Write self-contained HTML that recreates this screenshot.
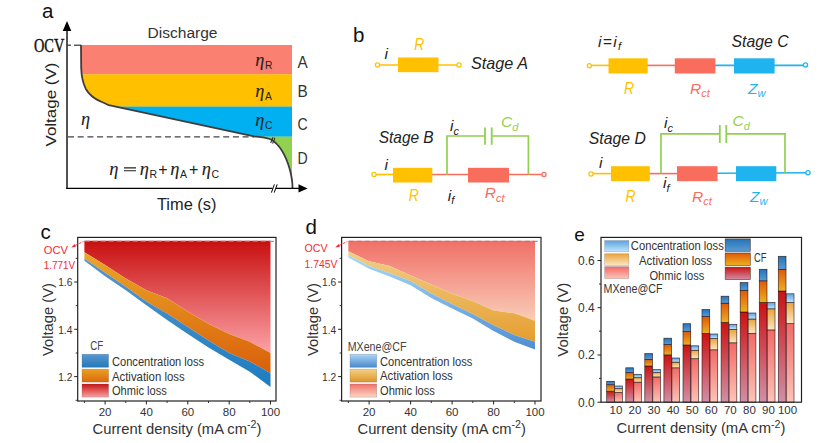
<!DOCTYPE html>
<html><head><meta charset="utf-8"><title>Figure</title>
<style>
html,body{margin:0;padding:0;background:#fff;}
body{width:822px;height:443px;overflow:hidden;font-family:"Liberation Sans",sans-serif;}
svg{display:block;}
text{white-space:pre;}
</style></head><body>
<svg width="822" height="443" viewBox="0 0 822 443">
<defs>
<linearGradient id="pco" gradientUnits="userSpaceOnUse" x1="0" y1="241" x2="0" y2="350"><stop offset="0" stop-color="#c81010"/><stop offset="1" stop-color="#fb9ea2"/></linearGradient>
<linearGradient id="pca" gradientUnits="userSpaceOnUse" x1="0" y1="250" x2="0" y2="385"><stop offset="0" stop-color="#eaa828"/><stop offset="1" stop-color="#d85808"/></linearGradient>
<linearGradient id="pcc" gradientUnits="userSpaceOnUse" x1="0" y1="255" x2="0" y2="390"><stop offset="0" stop-color="#5a96cc"/><stop offset="1" stop-color="#1a7cc0"/></linearGradient>
<linearGradient id="pdo" gradientUnits="userSpaceOnUse" x1="0" y1="241" x2="0" y2="325"><stop offset="0" stop-color="#f07068"/><stop offset="1" stop-color="#fad2bc"/></linearGradient>
<linearGradient id="pda" gradientUnits="userSpaceOnUse" x1="0" y1="250" x2="0" y2="348"><stop offset="0" stop-color="#f2cf88"/><stop offset="1" stop-color="#e49a28"/></linearGradient>
<linearGradient id="pdc" gradientUnits="userSpaceOnUse" x1="0" y1="255" x2="0" y2="352"><stop offset="0" stop-color="#a8d8f8"/><stop offset="1" stop-color="#4c8cd0"/></linearGradient>
<linearGradient id="pccl" x1="0" y1="0" x2="0" y2="1"><stop offset="0" stop-color="#5a98d2"/><stop offset="1" stop-color="#2478b8"/></linearGradient>
<linearGradient id="pcal" x1="0" y1="0" x2="0" y2="1"><stop offset="0" stop-color="#e8a020"/><stop offset="1" stop-color="#dc6a10"/></linearGradient>
<linearGradient id="pcol" x1="0" y1="0" x2="0" y2="1"><stop offset="0" stop-color="#c81414"/><stop offset="1" stop-color="#f9a0a0"/></linearGradient>
<linearGradient id="pdcl" x1="0" y1="0" x2="0" y2="1"><stop offset="0" stop-color="#acd8f8"/><stop offset="1" stop-color="#4a88cc"/></linearGradient>
<linearGradient id="pdal" x1="0" y1="0" x2="0" y2="1"><stop offset="0" stop-color="#f3d088"/><stop offset="1" stop-color="#e09626"/></linearGradient>
<linearGradient id="pdol" x1="0" y1="0" x2="0" y2="1"><stop offset="0" stop-color="#f07068"/><stop offset="1" stop-color="#fbd6c4"/></linearGradient>
<linearGradient id="eco" x1="0" y1="0" x2="0" y2="1"><stop offset="0" stop-color="#cc1212"/><stop offset="1" stop-color="#d090a8"/></linearGradient>
<linearGradient id="eca" x1="0" y1="0" x2="0" y2="1"><stop offset="0" stop-color="#e05808"/><stop offset="1" stop-color="#ecb020"/></linearGradient>
<linearGradient id="ecc" x1="0" y1="0" x2="0" y2="1"><stop offset="0" stop-color="#2474b8"/><stop offset="1" stop-color="#5a9ad6"/></linearGradient>
<linearGradient id="emo" x1="0" y1="0" x2="0" y2="1"><stop offset="0" stop-color="#f26a66"/><stop offset="1" stop-color="#fcc4b8"/></linearGradient>
<linearGradient id="ema" x1="0" y1="0" x2="0" y2="1"><stop offset="0" stop-color="#eaa43a"/><stop offset="1" stop-color="#fbe6c4"/></linearGradient>
<linearGradient id="emc" x1="0" y1="0" x2="0" y2="1"><stop offset="0" stop-color="#5aa2e2"/><stop offset="1" stop-color="#c4e6fb"/></linearGradient>
</defs>
<rect width="822" height="443" fill="#fff"/>
<g id="pa">
<rect x="81" y="45" width="211" height="29.5" fill="#fa8072"/>
<rect x="81" y="74.3" width="211" height="32.5" fill="#ffc000"/>
<rect x="81" y="106.6" width="211" height="30.2" fill="#00b0f0"/>
<rect x="255" y="136.6" width="37" height="45" fill="#92d050"/>
<path d="M81,45 L81.2,68 C81.4,76 82.5,82 85.7,88.7 C89,94.5 95,99 100.4,101.3 C103,102.5 106,104 108.8,105.1 L254,136.3 C262,137.4 267,137.6 271,139.5 C279,144 286,156 290,170 C292,178 292.6,183 292.5,188 L67,188 L67,45 Z" fill="#fff"/>
<line x1="68" y1="136.8" x2="254" y2="136.8" stroke="#444" stroke-width="1.3" stroke-dasharray="6,3.7"/>
<path d="M81,45 L81.2,68 C81.4,76 82.5,82 85.7,88.7 C89,94.5 95,99 100.4,101.3 C103,102.5 106,104 108.8,105.1 L254,136.3 C262,137.4 267,137.6 271,139.5 C279,144 286,156 290,170 C292,178 292.6,183 292.5,188" fill="none" stroke="#3d3d3d" stroke-width="1.8"/>
<line x1="67" y1="28" x2="67" y2="189" stroke="#000" stroke-width="1.35"/>
<line x1="66.3" y1="188.4" x2="300" y2="188.4" stroke="#000" stroke-width="1.35"/>
<path d="M67,21 L71.3,31 L62.7,31 Z" fill="#000"/>
<path d="M307.6,188.4 L298.5,184.2 L298.5,192.6 Z" fill="#000"/>
<line x1="67" y1="45.2" x2="71" y2="45.2" stroke="#333" stroke-width="1.2"/>
<line x1="74" y1="45.2" x2="81" y2="45.2" stroke="#333" stroke-width="1.2"/>
<rect x="272.5" y="186.5" width="3.4" height="4" fill="#fff"/>
<path d="M274.4,184.4 L271.4,192.6 M277.2,184.4 L274.2,192.6" stroke="#000" stroke-width="1" fill="none"/>
<path d="M273,137.2 L270.7,143 M274.9,137.8 L272.6,143.6" stroke="#333" stroke-width="1.1" fill="none"/>
<text x="42" y="18.3" fill="#111" style='font-family:"Liberation Sans", sans-serif;font-size:20.5px;' >a</text>
<text x="182.5" y="38" fill="#333" text-anchor="middle" textLength="70" lengthAdjust="spacingAndGlyphs" style='font-family:"Liberation Sans", sans-serif;font-size:15.5px;' >Discharge</text>
<text x="34" y="52" fill="#111" textLength="30.3" lengthAdjust="spacingAndGlyphs" style='font-family:"Liberation Serif", serif;font-size:18.5px;' stroke="#111" stroke-width="0.4">OCV</text>
<text transform="translate(56.3,104.5) rotate(-90)" text-anchor="middle" textLength="84" lengthAdjust="spacingAndGlyphs" fill="#222" style='font-family:"Liberation Sans", sans-serif;font-size:15.5px;'>Voltage (V)</text>
<text x="186.7" y="210.3" fill="#222" text-anchor="middle" textLength="59.5" lengthAdjust="spacingAndGlyphs" style='font-family:"Liberation Sans", sans-serif;font-size:16px;' >Time (s)</text>
<text x="302.5" y="68" fill="#333" text-anchor="middle" textLength="10.2" lengthAdjust="spacingAndGlyphs" style='font-family:"Liberation Sans", sans-serif;font-size:16.5px;' >A</text>
<text x="302.5" y="96.7" fill="#333" text-anchor="middle" textLength="10.2" lengthAdjust="spacingAndGlyphs" style='font-family:"Liberation Sans", sans-serif;font-size:16.5px;' >B</text>
<text x="302.5" y="130" fill="#333" text-anchor="middle" textLength="10.2" lengthAdjust="spacingAndGlyphs" style='font-family:"Liberation Sans", sans-serif;font-size:16.5px;' >C</text>
<text x="302.5" y="163.7" fill="#333" text-anchor="middle" textLength="10.2" lengthAdjust="spacingAndGlyphs" style='font-family:"Liberation Sans", sans-serif;font-size:16.5px;' >D</text>
<text x="255.2" y="65.7" fill="#222" stroke="#222" stroke-width="0.08" style='font-family:"Liberation Serif", serif;font-size:18.3px;font-style:italic;'>η</text>
<text x="264.899" y="69.0" fill="#222" style='font-family:"Liberation Sans", sans-serif;font-size:10.3px;'>R</text>
<text x="255.2" y="96.5" fill="#222" stroke="#222" stroke-width="0.08" style='font-family:"Liberation Serif", serif;font-size:18.3px;font-style:italic;'>η</text>
<text x="264.899" y="99.8" fill="#222" style='font-family:"Liberation Sans", sans-serif;font-size:10.3px;'>A</text>
<text x="255.2" y="125.7" fill="#222" stroke="#222" stroke-width="0.08" style='font-family:"Liberation Serif", serif;font-size:18.3px;font-style:italic;'>η</text>
<text x="264.899" y="129.0" fill="#222" style='font-family:"Liberation Sans", sans-serif;font-size:10.3px;'>C</text>
<text x="81" y="125.3" fill="#222" stroke="#222" stroke-width="0.08" style='font-family:"Liberation Serif", serif;font-size:18.3px;font-style:italic;'>η</text>
<text x="109.3" y="174.5" fill="#222" stroke="#222" stroke-width="0.08" style='font-family:"Liberation Serif", serif;font-size:18.5px;font-style:italic;'>η</text>
<path d="M124,167.9 L136,167.9 M124,170.7 L136,170.7" stroke="#222" stroke-width="1.1" fill="none"/>
<text x="139.8" y="174.5" fill="#222" stroke="#222" stroke-width="0.08" style='font-family:"Liberation Serif", serif;font-size:18.5px;font-style:italic;'>η</text>
<text x="149.60500000000002" y="177.8" fill="#222" style='font-family:"Liberation Sans", sans-serif;font-size:10.5px;'>R</text>
<text x="158.2" y="175.3" fill="#222" style='font-family:"Liberation Sans", sans-serif;font-size:16px;' >+</text>
<text x="170.3" y="174.5" fill="#222" stroke="#222" stroke-width="0.08" style='font-family:"Liberation Serif", serif;font-size:18.5px;font-style:italic;'>η</text>
<text x="180.10500000000002" y="177.8" fill="#222" style='font-family:"Liberation Sans", sans-serif;font-size:10.5px;'>A</text>
<text x="189.1" y="175.3" fill="#222" style='font-family:"Liberation Sans", sans-serif;font-size:16px;' >+</text>
<text x="201.8" y="174.5" fill="#222" stroke="#222" stroke-width="0.08" style='font-family:"Liberation Serif", serif;font-size:18.5px;font-style:italic;'>η</text>
<text x="211.60500000000002" y="177.8" fill="#222" style='font-family:"Liberation Sans", sans-serif;font-size:10.5px;'>C</text>
</g>
<g id="pb">
<text x="353" y="42" fill="#111" style='font-family:"Liberation Sans", sans-serif;font-size:20.5px;' >b</text>
<line x1="379" y1="65" x2="457" y2="65" stroke="#ffc000" stroke-width="1.6"/>
<rect x="398" y="57.5" width="40.5" height="14.7" fill="#ffc000"/>
<circle cx="377.5" cy="65" r="2.1" fill="#fff" stroke="#ffc000" stroke-width="1.25"/>
<circle cx="459" cy="65" r="2.1" fill="#fff" stroke="#ffc000" stroke-width="1.25"/>
<text x="471" y="69.2" fill="#222" textLength="57" lengthAdjust="spacingAndGlyphs" style='font-family:"Liberation Sans", sans-serif;font-size:16.6px;font-style:italic;' >Stage A</text>
<text x="414.2" y="50" fill="#ffc000" textLength="10" lengthAdjust="spacingAndGlyphs" style='font-family:"Liberation Sans", sans-serif;font-size:16.3px;font-style:italic;' >R</text>
<text x="384.5" y="58.6" fill="#222" style='font-family:"Liberation Sans", sans-serif;font-size:15.5px;font-style:italic;' >i</text>
<line x1="375.5" y1="174.5" x2="393" y2="174.5" stroke="#ffc000" stroke-width="1.6"/>
<line x1="432" y1="174.5" x2="542.5" y2="174.5" stroke="#f86d5c" stroke-width="1.6"/>
<rect x="393" y="167.8" width="39.3" height="14.7" fill="#ffc000"/>
<rect x="468" y="167.8" width="41" height="14.7" fill="#f86d5c"/>
<path d="M447,174.5 L447,136 L485,136 M491.7,136 L528.4,136 L528.4,174.5" fill="none" stroke="#92d050" stroke-width="1.7"/>
<path d="M485,127.4 L485,144.8 M491.7,127.4 L491.7,144.8" fill="none" stroke="#92d050" stroke-width="1.8"/>
<circle cx="374" cy="174.5" r="2.1" fill="#fff" stroke="#ffc000" stroke-width="1.25"/>
<circle cx="544" cy="174.5" r="2.1" fill="#fff" stroke="#f86d5c" stroke-width="1.25"/>
<text x="378.7" y="143.3" fill="#222" textLength="55" lengthAdjust="spacingAndGlyphs" style='font-family:"Liberation Sans", sans-serif;font-size:16.6px;font-style:italic;' >Stage B</text>
<text x="450" y="131.4" fill="#222" style='font-family:"Liberation Sans", sans-serif;font-size:15.5px;font-style:italic;'>i<tspan dy="3.5" style="font-size:11px">c</tspan></text>
<text x="501" y="127.4" fill="#92d050" style='font-family:"Liberation Sans", sans-serif;font-size:15.5px;font-style:italic;'>C<tspan dy="3.5" style="font-size:11px">d</tspan></text>
<text x="384.6" y="170" fill="#222" style='font-family:"Liberation Sans", sans-serif;font-size:15.5px;font-style:italic;' >i</text>
<text x="408.7" y="200.5" fill="#ffc000" textLength="10" lengthAdjust="spacingAndGlyphs" style='font-family:"Liberation Sans", sans-serif;font-size:16.3px;font-style:italic;' >R</text>
<text x="447.8" y="200.5" fill="#222" style='font-family:"Liberation Sans", sans-serif;font-size:15.5px;font-style:italic;'>i<tspan dy="3.5" style="font-size:11px">f</tspan></text>
<text x="484.7" y="198.3" fill="#f86d5c" style='font-family:"Liberation Sans", sans-serif;font-size:15.5px;font-style:italic;'>R<tspan dy="3.5" style="font-size:11px">ct</tspan></text>
<line x1="591" y1="65.4" x2="609" y2="65.4" stroke="#ffc000" stroke-width="1.6"/>
<line x1="647" y1="65.4" x2="676" y2="65.4" stroke="#f86d5c" stroke-width="1.6"/>
<line x1="715" y1="65.4" x2="804" y2="65.4" stroke="#1fb3f0" stroke-width="1.6"/>
<rect x="608.5" y="58.3" width="39.2" height="15.2" fill="#ffc000"/>
<rect x="674.8" y="58.3" width="40.6" height="15.2" fill="#f86d5c"/>
<rect x="734" y="58.3" width="40.6" height="15.2" fill="#1fb3f0"/>
<circle cx="589.4" cy="65.80000000000001" r="2.1" fill="#fff" stroke="#ffc000" stroke-width="1.25"/>
<circle cx="805.5" cy="65.0" r="2.1" fill="#fff" stroke="#1fb3f0" stroke-width="1.25"/>
<text x="598" y="46.5" fill="#222" textLength="23" lengthAdjust="spacing" style='font-family:"Liberation Sans", sans-serif;font-size:15.5px;font-style:italic;'>i=i<tspan dy="3.5" style="font-size:11px">f</tspan></text>
<text x="731.6" y="46.8" fill="#222" textLength="57" lengthAdjust="spacingAndGlyphs" style='font-family:"Liberation Sans", sans-serif;font-size:16.6px;font-style:italic;' >Stage C</text>
<text x="624" y="93.6" fill="#ffc000" textLength="10" lengthAdjust="spacingAndGlyphs" style='font-family:"Liberation Sans", sans-serif;font-size:16.3px;font-style:italic;' >R</text>
<text x="690" y="93.6" fill="#f86d5c" style='font-family:"Liberation Sans", sans-serif;font-size:15.5px;font-style:italic;'>R<tspan dy="3.5" style="font-size:11px">ct</tspan></text>
<text x="748" y="93.6" fill="#1fb3f0" style='font-family:"Liberation Sans", sans-serif;font-size:15.5px;font-style:italic;'>Z<tspan dy="3.5" style="font-size:11px">w</tspan></text>
<line x1="592.5" y1="173.6" x2="611" y2="173.6" stroke="#ffc000" stroke-width="1.6"/>
<line x1="649" y1="173.6" x2="678" y2="173.6" stroke="#f86d5c" stroke-width="1.6"/>
<line x1="717" y1="173.29999999999998" x2="806.5" y2="172.79999999999998" stroke="#1fb3f0" stroke-width="1.6"/>
<rect x="611" y="166.2" width="38.8" height="15" fill="#ffc000"/>
<rect x="677" y="166.2" width="40.5" height="15" fill="#f86d5c"/>
<rect x="736" y="166.2" width="40.3" height="15" fill="#1fb3f0"/>
<path d="M661,173.6 L661,133.8 L719.8,133.8 M726.3,133.8 L785,133.8 L785,173.6" fill="none" stroke="#92d050" stroke-width="1.7"/>
<path d="M719.8,125 L719.8,143 M726.3,125 L726.3,143" fill="none" stroke="#92d050" stroke-width="1.8"/>
<circle cx="591" cy="174.0" r="2.1" fill="#fff" stroke="#ffc000" stroke-width="1.25"/>
<circle cx="808" cy="172.79999999999998" r="2.1" fill="#fff" stroke="#1fb3f0" stroke-width="1.25"/>
<text x="588.8" y="143.8" fill="#222" textLength="57" lengthAdjust="spacingAndGlyphs" style='font-family:"Liberation Sans", sans-serif;font-size:16.6px;font-style:italic;' >Stage D</text>
<text x="664" y="128" fill="#222" style='font-family:"Liberation Sans", sans-serif;font-size:15.5px;font-style:italic;'>i<tspan dy="3.5" style="font-size:11px">c</tspan></text>
<text x="732.5" y="126" fill="#92d050" style='font-family:"Liberation Sans", sans-serif;font-size:15.5px;font-style:italic;'>C<tspan dy="3.5" style="font-size:11px">d</tspan></text>
<text x="599" y="168" fill="#222" style='font-family:"Liberation Sans", sans-serif;font-size:15.5px;font-style:italic;' >i</text>
<text x="663" y="188.3" fill="#222" style='font-family:"Liberation Sans", sans-serif;font-size:15.5px;font-style:italic;'>i<tspan dy="3.5" style="font-size:11px">f</tspan></text>
<text x="625.6" y="201.5" fill="#ffc000" textLength="10" lengthAdjust="spacingAndGlyphs" style='font-family:"Liberation Sans", sans-serif;font-size:16.3px;font-style:italic;' >R</text>
<text x="692" y="201.5" fill="#f86d5c" style='font-family:"Liberation Sans", sans-serif;font-size:15.5px;font-style:italic;'>R<tspan dy="3.5" style="font-size:11px">ct</tspan></text>
<text x="750" y="201.5" fill="#1fb3f0" style='font-family:"Liberation Sans", sans-serif;font-size:15.5px;font-style:italic;'>Z<tspan dy="3.5" style="font-size:11px">w</tspan></text>
</g>
<g id="pc">
<polygon points="84.4,240.8 105.1,240.8 125.8,240.8 146.4,240.8 167.1,240.8 187.8,240.8 208.5,240.8 229.2,240.8 249.8,240.8 270.5,240.8 270.5,353.0 249.8,341.8 229.2,333.9 208.5,323.7 187.8,311.5 167.1,298.3 146.4,290.2 125.8,278.4 105.1,264.9 84.4,252.2" fill="url(#pco)"/>
<polygon points="84.4,252.2 105.1,264.9 125.8,278.4 146.4,290.2 167.1,298.3 187.8,311.5 208.5,323.7 229.2,333.9 249.8,341.8 270.5,353.0 270.5,373.3 249.8,361.4 229.2,353.0 208.5,340.6 187.8,327.0 167.1,313.5 146.4,301.4 125.8,286.8 105.1,272.8 84.4,258.6" fill="url(#pca)"/>
<polygon points="84.4,258.6 105.1,272.8 125.8,286.8 146.4,301.4 167.1,313.5 187.8,327.0 208.5,340.6 229.2,353.0 249.8,361.4 270.5,373.3 270.5,386.9 249.8,371.8 229.2,359.8 208.5,347.4 187.8,333.9 167.1,320.0 146.4,305.3 125.8,290.2 105.1,276.2 84.4,260.8" fill="url(#pcc)"/>
<line x1="84.9" y1="241.3" x2="275" y2="241.3" stroke="#8a8484" stroke-width="1" stroke-dasharray="5,3"/>
<rect x="77.7" y="237.4" width="198.3" height="163.6" fill="none" stroke="#222" stroke-width="1.2"/>
<line x1="74.2" y1="282" x2="77.7" y2="282" stroke="#222" stroke-width="1"/>
<text x="72.4" y="286.2" fill="#333" text-anchor="end" textLength="14.2" lengthAdjust="spacingAndGlyphs" style='font-family:"Liberation Sans", sans-serif;font-size:11.7px;' >1.6</text>
<line x1="74.2" y1="329.3" x2="77.7" y2="329.3" stroke="#222" stroke-width="1"/>
<text x="72.4" y="333.5" fill="#333" text-anchor="end" textLength="14.2" lengthAdjust="spacingAndGlyphs" style='font-family:"Liberation Sans", sans-serif;font-size:11.7px;' >1.4</text>
<line x1="74.2" y1="376.6" x2="77.7" y2="376.6" stroke="#222" stroke-width="1"/>
<text x="72.4" y="380.8" fill="#333" text-anchor="end" textLength="14.2" lengthAdjust="spacingAndGlyphs" style='font-family:"Liberation Sans", sans-serif;font-size:11.7px;' >1.2</text>
<line x1="75.7" y1="258.3" x2="77.7" y2="258.3" stroke="#222" stroke-width="0.9"/>
<line x1="75.7" y1="305.6" x2="77.7" y2="305.6" stroke="#222" stroke-width="0.9"/>
<line x1="75.7" y1="353" x2="77.7" y2="353" stroke="#222" stroke-width="0.9"/>
<line x1="75.7" y1="400.3" x2="77.7" y2="400.3" stroke="#222" stroke-width="0.9"/>
<line x1="105.1" y1="401" x2="105.1" y2="404.5" stroke="#222" stroke-width="1"/>
<text x="105.1" y="416.3" fill="#333" text-anchor="middle" style='font-family:"Liberation Sans", sans-serif;font-size:11.5px;' >20</text>
<line x1="146.4" y1="401" x2="146.4" y2="404.5" stroke="#222" stroke-width="1"/>
<text x="146.4" y="416.3" fill="#333" text-anchor="middle" style='font-family:"Liberation Sans", sans-serif;font-size:11.5px;' >40</text>
<line x1="187.8" y1="401" x2="187.8" y2="404.5" stroke="#222" stroke-width="1"/>
<text x="187.8" y="416.3" fill="#333" text-anchor="middle" style='font-family:"Liberation Sans", sans-serif;font-size:11.5px;' >60</text>
<line x1="229.2" y1="401" x2="229.2" y2="404.5" stroke="#222" stroke-width="1"/>
<text x="229.2" y="416.3" fill="#333" text-anchor="middle" style='font-family:"Liberation Sans", sans-serif;font-size:11.5px;' >80</text>
<line x1="270.5" y1="401" x2="270.5" y2="404.5" stroke="#222" stroke-width="1"/>
<text x="270.5" y="416.3" fill="#333" text-anchor="middle" style='font-family:"Liberation Sans", sans-serif;font-size:11.5px;' >100</text>
<line x1="84.4" y1="401" x2="84.4" y2="403" stroke="#222" stroke-width="0.9"/>
<line x1="125.8" y1="401" x2="125.8" y2="403" stroke="#222" stroke-width="0.9"/>
<line x1="167.1" y1="401" x2="167.1" y2="403" stroke="#222" stroke-width="0.9"/>
<line x1="208.5" y1="401" x2="208.5" y2="403" stroke="#222" stroke-width="0.9"/>
<line x1="249.8" y1="401" x2="249.8" y2="403" stroke="#222" stroke-width="0.9"/>
</g>
<g id="pcl">
<text x="40.6" y="239.1" fill="#111" style='font-family:"Liberation Sans", sans-serif;font-size:20.5px;' >c</text>
<text x="43.8" y="254.3" fill="#f52a34" textLength="24.2" lengthAdjust="spacingAndGlyphs" style='font-family:"Liberation Sans", sans-serif;font-size:11.5px;' >OCV</text>
<text x="43.8" y="269.2" fill="#f52a34" textLength="31.4" lengthAdjust="spacingAndGlyphs" style='font-family:"Liberation Sans", sans-serif;font-size:11.5px;' >1.771V</text>
<path d="M71.2,247.5 L74.6,244 L76,246.8 Z" fill="#f52a34"/>
<line x1="75.3" y1="245.4" x2="83.5" y2="241.4" stroke="#f52a34" stroke-width="0.9" stroke-dasharray="2.6,1.4"/>
<text transform="translate(53.4,319.5) rotate(-90)" text-anchor="middle" textLength="73" lengthAdjust="spacingAndGlyphs" fill="#333" style='font-family:"Liberation Sans", sans-serif;font-size:15.3px;'>Voltage (V)</text>
<text x="92.5" y="433.5" fill="#333" textLength="169.0" lengthAdjust="spacingAndGlyphs" style='font-family:"Liberation Sans", sans-serif;font-size:14.5px;'>Current density (mA cm<tspan dy="-5.5" style="font-size:10.5px">-2</tspan><tspan dy="5.5">)</tspan></text>
<text x="90.3" y="349.6" fill="#444" textLength="13" lengthAdjust="spacingAndGlyphs" style='font-family:"Liberation Sans", sans-serif;font-size:12px;' >CF</text>
<rect x="82" y="354.2" width="26.6" height="13.1" fill="url(#pccl)" stroke="rgba(80,80,80,0.35)" stroke-width="0.6"/>
<text x="111.9" y="366.3" fill="#333" textLength="92.3" lengthAdjust="spacingAndGlyphs" style='font-family:"Liberation Sans", sans-serif;font-size:12px;' >Concentration loss</text>
<rect x="82" y="369.2" width="26.6" height="12.9" fill="url(#pcal)" stroke="rgba(80,80,80,0.35)" stroke-width="0.6"/>
<text x="111.9" y="380.5" fill="#333" textLength="72.8" lengthAdjust="spacingAndGlyphs" style='font-family:"Liberation Sans", sans-serif;font-size:12px;' >Activation loss</text>
<rect x="82" y="384" width="26.6" height="13.1" fill="url(#pcol)" stroke="rgba(80,80,80,0.35)" stroke-width="0.6"/>
<text x="111.9" y="395.4" fill="#333" textLength="54.9" lengthAdjust="spacingAndGlyphs" style='font-family:"Liberation Sans", sans-serif;font-size:12px;' >Ohmic loss</text>
</g>
<g id="pd">
<polygon points="348.3,240.8 369.1,240.8 389.8,240.8 410.6,240.8 431.3,240.8 452.1,240.8 472.8,240.8 493.6,240.8 514.3,240.8 535.0,240.8 535.0,320.8 514.3,313.3 493.6,310.6 472.8,301.1 452.1,293.7 431.3,284.5 410.6,275.5 389.8,266.0 369.1,261.3 348.3,251.3" fill="url(#pdo)"/>
<polygon points="348.3,251.3 369.1,261.3 389.8,266.0 410.6,275.5 431.3,284.5 452.1,293.7 472.8,301.1 493.6,310.6 514.3,313.3 535.0,320.8 535.0,341.8 514.3,335.0 493.6,325.3 472.8,314.0 452.1,303.9 431.3,293.5 410.6,281.1 389.8,273.2 369.1,266.0 348.3,255.2" fill="url(#pda)"/>
<polygon points="348.3,255.2 369.1,266.0 389.8,273.2 410.6,281.1 431.3,293.5 452.1,303.9 472.8,314.0 493.6,325.3 514.3,335.0 535.0,341.8 535.0,349.4 514.3,341.8 493.6,330.9 472.8,318.5 452.1,308.4 431.3,298.0 410.6,285.2 389.8,276.6 369.1,268.7 348.3,257.4" fill="url(#pdc)"/>
<line x1="348.8" y1="241.3" x2="540" y2="241.3" stroke="#8a8484" stroke-width="1" stroke-dasharray="5,3"/>
<rect x="341.6" y="237.4" width="199.39999999999998" height="163.6" fill="none" stroke="#222" stroke-width="1.2"/>
<line x1="338.1" y1="282" x2="341.6" y2="282" stroke="#222" stroke-width="1"/>
<text x="336.3" y="286.2" fill="#333" text-anchor="end" textLength="14.2" lengthAdjust="spacingAndGlyphs" style='font-family:"Liberation Sans", sans-serif;font-size:11.7px;' >1.6</text>
<line x1="338.1" y1="329.3" x2="341.6" y2="329.3" stroke="#222" stroke-width="1"/>
<text x="336.3" y="333.5" fill="#333" text-anchor="end" textLength="14.2" lengthAdjust="spacingAndGlyphs" style='font-family:"Liberation Sans", sans-serif;font-size:11.7px;' >1.4</text>
<line x1="338.1" y1="376.6" x2="341.6" y2="376.6" stroke="#222" stroke-width="1"/>
<text x="336.3" y="380.8" fill="#333" text-anchor="end" textLength="14.2" lengthAdjust="spacingAndGlyphs" style='font-family:"Liberation Sans", sans-serif;font-size:11.7px;' >1.2</text>
<line x1="339.6" y1="258.3" x2="341.6" y2="258.3" stroke="#222" stroke-width="0.9"/>
<line x1="339.6" y1="305.6" x2="341.6" y2="305.6" stroke="#222" stroke-width="0.9"/>
<line x1="339.6" y1="353" x2="341.6" y2="353" stroke="#222" stroke-width="0.9"/>
<line x1="339.6" y1="400.3" x2="341.6" y2="400.3" stroke="#222" stroke-width="0.9"/>
<line x1="369.1" y1="401" x2="369.1" y2="404.5" stroke="#222" stroke-width="1"/>
<text x="369.1" y="416.3" fill="#333" text-anchor="middle" style='font-family:"Liberation Sans", sans-serif;font-size:11.5px;' >20</text>
<line x1="410.6" y1="401" x2="410.6" y2="404.5" stroke="#222" stroke-width="1"/>
<text x="410.6" y="416.3" fill="#333" text-anchor="middle" style='font-family:"Liberation Sans", sans-serif;font-size:11.5px;' >40</text>
<line x1="452.1" y1="401" x2="452.1" y2="404.5" stroke="#222" stroke-width="1"/>
<text x="452.1" y="416.3" fill="#333" text-anchor="middle" style='font-family:"Liberation Sans", sans-serif;font-size:11.5px;' >60</text>
<line x1="493.6" y1="401" x2="493.6" y2="404.5" stroke="#222" stroke-width="1"/>
<text x="493.6" y="416.3" fill="#333" text-anchor="middle" style='font-family:"Liberation Sans", sans-serif;font-size:11.5px;' >80</text>
<line x1="535.0" y1="401" x2="535.0" y2="404.5" stroke="#222" stroke-width="1"/>
<text x="535.0" y="416.3" fill="#333" text-anchor="middle" style='font-family:"Liberation Sans", sans-serif;font-size:11.5px;' >100</text>
<line x1="348.3" y1="401" x2="348.3" y2="403" stroke="#222" stroke-width="0.9"/>
<line x1="389.8" y1="401" x2="389.8" y2="403" stroke="#222" stroke-width="0.9"/>
<line x1="431.3" y1="401" x2="431.3" y2="403" stroke="#222" stroke-width="0.9"/>
<line x1="472.8" y1="401" x2="472.8" y2="403" stroke="#222" stroke-width="0.9"/>
<line x1="514.3" y1="401" x2="514.3" y2="403" stroke="#222" stroke-width="0.9"/>
</g>
<g id="pdl">
<text x="305.5" y="234" fill="#111" style='font-family:"Liberation Sans", sans-serif;font-size:20.5px;' >d</text>
<text x="304.5" y="252.3" fill="#f52a34" textLength="23" lengthAdjust="spacingAndGlyphs" style='font-family:"Liberation Sans", sans-serif;font-size:11.5px;' >OCV</text>
<text x="304.5" y="268" fill="#f52a34" textLength="33" lengthAdjust="spacingAndGlyphs" style='font-family:"Liberation Sans", sans-serif;font-size:11.5px;' >1.745V</text>
<path d="M335.2,247.5 L338.6,244 L340,246.8 Z" fill="#f52a34"/>
<line x1="339.3" y1="245.4" x2="347.4" y2="241.4" stroke="#f52a34" stroke-width="0.9" stroke-dasharray="2.6,1.4"/>
<text transform="translate(317.9,319.5) rotate(-90)" text-anchor="middle" textLength="73" lengthAdjust="spacingAndGlyphs" fill="#333" style='font-family:"Liberation Sans", sans-serif;font-size:15.3px;'>Voltage (V)</text>
<text x="357.5" y="433.5" fill="#333" textLength="168.5" lengthAdjust="spacingAndGlyphs" style='font-family:"Liberation Sans", sans-serif;font-size:14.5px;'>Current density (mA cm<tspan dy="-5.5" style="font-size:10.5px">-2</tspan><tspan dy="5.5">)</tspan></text>
<text x="347.7" y="350.7" fill="#444" textLength="58.7" lengthAdjust="spacingAndGlyphs" style='font-family:"Liberation Sans", sans-serif;font-size:12px;' >MXene@CF</text>
<rect x="350" y="354.2" width="26.7" height="13.1" fill="url(#pdcl)" stroke="rgba(80,80,80,0.35)" stroke-width="0.6"/>
<text x="380" y="365.6" fill="#333" textLength="92.3" lengthAdjust="spacingAndGlyphs" style='font-family:"Liberation Sans", sans-serif;font-size:12px;' >Concentration loss</text>
<rect x="350" y="369.2" width="26.7" height="12.9" fill="url(#pdal)" stroke="rgba(80,80,80,0.35)" stroke-width="0.6"/>
<text x="380" y="380.3" fill="#333" textLength="72.8" lengthAdjust="spacingAndGlyphs" style='font-family:"Liberation Sans", sans-serif;font-size:12px;' >Activation loss</text>
<rect x="350" y="384" width="26.7" height="13.1" fill="url(#pdol)" stroke="rgba(80,80,80,0.35)" stroke-width="0.6"/>
<text x="380" y="395.3" fill="#333" textLength="54.9" lengthAdjust="spacingAndGlyphs" style='font-family:"Liberation Sans", sans-serif;font-size:12px;' >Ohmic loss</text>
</g>
<g id="pe">
<rect x="606.7" y="391.2" width="7.7" height="11.0" fill="url(#eco)" stroke="rgba(30,10,10,0.8)" stroke-width="0.7"/>
<rect x="606.7" y="384.7" width="7.7" height="6.5" fill="url(#eca)" stroke="rgba(30,10,10,0.8)" stroke-width="0.7"/>
<rect x="606.7" y="381.3" width="7.7" height="3.4" fill="url(#ecc)" stroke="rgba(30,10,10,0.8)" stroke-width="0.7"/>
<rect x="614.7" y="392.5" width="7.7" height="9.7" fill="url(#emo)" stroke="rgba(30,10,10,0.8)" stroke-width="0.7"/>
<rect x="614.7" y="388.6" width="7.7" height="3.9" fill="url(#ema)" stroke="rgba(30,10,10,0.8)" stroke-width="0.7"/>
<rect x="614.7" y="386.0" width="7.7" height="2.6" fill="url(#emc)" stroke="rgba(30,10,10,0.8)" stroke-width="0.7"/>
<text x="615.9" y="413.8" fill="#333" text-anchor="middle" style='font-family:"Liberation Sans", sans-serif;font-size:11.5px;' >10</text>
<rect x="625.8" y="379.0" width="7.7" height="23.2" fill="url(#eco)" stroke="rgba(30,10,10,0.8)" stroke-width="0.7"/>
<rect x="625.8" y="372.5" width="7.7" height="6.5" fill="url(#eca)" stroke="rgba(30,10,10,0.8)" stroke-width="0.7"/>
<rect x="625.8" y="367.8" width="7.7" height="4.7" fill="url(#ecc)" stroke="rgba(30,10,10,0.8)" stroke-width="0.7"/>
<rect x="633.8" y="382.1" width="7.7" height="20.1" fill="url(#emo)" stroke="rgba(30,10,10,0.8)" stroke-width="0.7"/>
<rect x="633.8" y="377.7" width="7.7" height="4.4" fill="url(#ema)" stroke="rgba(30,10,10,0.8)" stroke-width="0.7"/>
<rect x="633.8" y="374.3" width="7.7" height="3.4" fill="url(#emc)" stroke="rgba(30,10,10,0.8)" stroke-width="0.7"/>
<text x="635.0" y="413.8" fill="#333" text-anchor="middle" style='font-family:"Liberation Sans", sans-serif;font-size:11.5px;' >20</text>
<rect x="644.8" y="366.0" width="7.7" height="36.2" fill="url(#eco)" stroke="rgba(30,10,10,0.8)" stroke-width="0.7"/>
<rect x="644.8" y="359.5" width="7.7" height="6.5" fill="url(#eca)" stroke="rgba(30,10,10,0.8)" stroke-width="0.7"/>
<rect x="644.8" y="353.6" width="7.7" height="5.9" fill="url(#ecc)" stroke="rgba(30,10,10,0.8)" stroke-width="0.7"/>
<rect x="652.8" y="376.9" width="7.7" height="25.3" fill="url(#emo)" stroke="rgba(30,10,10,0.8)" stroke-width="0.7"/>
<rect x="652.8" y="372.5" width="7.7" height="4.4" fill="url(#ema)" stroke="rgba(30,10,10,0.8)" stroke-width="0.7"/>
<rect x="652.8" y="369.6" width="7.7" height="2.9" fill="url(#emc)" stroke="rgba(30,10,10,0.8)" stroke-width="0.7"/>
<text x="654.0" y="413.8" fill="#333" text-anchor="middle" style='font-family:"Liberation Sans", sans-serif;font-size:11.5px;' >30</text>
<rect x="663.9" y="354.9" width="7.7" height="47.3" fill="url(#eco)" stroke="rgba(30,10,10,0.8)" stroke-width="0.7"/>
<rect x="663.9" y="344.5" width="7.7" height="10.4" fill="url(#eca)" stroke="rgba(30,10,10,0.8)" stroke-width="0.7"/>
<rect x="663.9" y="338.2" width="7.7" height="6.3" fill="url(#ecc)" stroke="rgba(30,10,10,0.8)" stroke-width="0.7"/>
<rect x="671.9" y="367.8" width="7.7" height="34.4" fill="url(#emo)" stroke="rgba(30,10,10,0.8)" stroke-width="0.7"/>
<rect x="671.9" y="362.1" width="7.7" height="5.7" fill="url(#ema)" stroke="rgba(30,10,10,0.8)" stroke-width="0.7"/>
<rect x="671.9" y="358.0" width="7.7" height="4.1" fill="url(#emc)" stroke="rgba(30,10,10,0.8)" stroke-width="0.7"/>
<text x="673.1" y="413.8" fill="#333" text-anchor="middle" style='font-family:"Liberation Sans", sans-serif;font-size:11.5px;' >40</text>
<rect x="683.0" y="345.0" width="7.7" height="57.2" fill="url(#eco)" stroke="rgba(30,10,10,0.8)" stroke-width="0.7"/>
<rect x="683.0" y="331.5" width="7.7" height="13.5" fill="url(#eca)" stroke="rgba(30,10,10,0.8)" stroke-width="0.7"/>
<rect x="683.0" y="323.7" width="7.7" height="7.8" fill="url(#ecc)" stroke="rgba(30,10,10,0.8)" stroke-width="0.7"/>
<rect x="691.0" y="358.7" width="7.7" height="43.5" fill="url(#emo)" stroke="rgba(30,10,10,0.8)" stroke-width="0.7"/>
<rect x="691.0" y="350.2" width="7.7" height="8.5" fill="url(#ema)" stroke="rgba(30,10,10,0.8)" stroke-width="0.7"/>
<rect x="691.0" y="345.8" width="7.7" height="4.4" fill="url(#emc)" stroke="rgba(30,10,10,0.8)" stroke-width="0.7"/>
<text x="692.2" y="413.8" fill="#333" text-anchor="middle" style='font-family:"Liberation Sans", sans-serif;font-size:11.5px;' >50</text>
<rect x="702.0" y="333.4" width="7.7" height="68.8" fill="url(#eco)" stroke="rgba(30,10,10,0.8)" stroke-width="0.7"/>
<rect x="702.0" y="316.6" width="7.7" height="16.8" fill="url(#eca)" stroke="rgba(30,10,10,0.8)" stroke-width="0.7"/>
<rect x="702.0" y="309.5" width="7.7" height="7.1" fill="url(#ecc)" stroke="rgba(30,10,10,0.8)" stroke-width="0.7"/>
<rect x="710.0" y="349.8" width="7.7" height="52.4" fill="url(#emo)" stroke="rgba(30,10,10,0.8)" stroke-width="0.7"/>
<rect x="710.0" y="338.6" width="7.7" height="11.2" fill="url(#ema)" stroke="rgba(30,10,10,0.8)" stroke-width="0.7"/>
<rect x="710.0" y="334.0" width="7.7" height="4.6" fill="url(#emc)" stroke="rgba(30,10,10,0.8)" stroke-width="0.7"/>
<text x="711.2" y="413.8" fill="#333" text-anchor="middle" style='font-family:"Liberation Sans", sans-serif;font-size:11.5px;' >60</text>
<rect x="721.1" y="322.5" width="7.7" height="79.7" fill="url(#eco)" stroke="rgba(30,10,10,0.8)" stroke-width="0.7"/>
<rect x="721.1" y="303.2" width="7.7" height="19.3" fill="url(#eca)" stroke="rgba(30,10,10,0.8)" stroke-width="0.7"/>
<rect x="721.1" y="296.2" width="7.7" height="7.0" fill="url(#ecc)" stroke="rgba(30,10,10,0.8)" stroke-width="0.7"/>
<rect x="729.1" y="342.8" width="7.7" height="59.4" fill="url(#emo)" stroke="rgba(30,10,10,0.8)" stroke-width="0.7"/>
<rect x="729.1" y="329.5" width="7.7" height="13.3" fill="url(#ema)" stroke="rgba(30,10,10,0.8)" stroke-width="0.7"/>
<rect x="729.1" y="324.3" width="7.7" height="5.2" fill="url(#emc)" stroke="rgba(30,10,10,0.8)" stroke-width="0.7"/>
<text x="730.3" y="413.8" fill="#333" text-anchor="middle" style='font-family:"Liberation Sans", sans-serif;font-size:11.5px;' >70</text>
<rect x="740.2" y="312.0" width="7.7" height="90.2" fill="url(#eco)" stroke="rgba(30,10,10,0.8)" stroke-width="0.7"/>
<rect x="740.2" y="290.3" width="7.7" height="21.7" fill="url(#eca)" stroke="rgba(30,10,10,0.8)" stroke-width="0.7"/>
<rect x="740.2" y="282.6" width="7.7" height="7.7" fill="url(#ecc)" stroke="rgba(30,10,10,0.8)" stroke-width="0.7"/>
<rect x="748.2" y="333.4" width="7.7" height="68.8" fill="url(#emo)" stroke="rgba(30,10,10,0.8)" stroke-width="0.7"/>
<rect x="748.2" y="319.0" width="7.7" height="14.4" fill="url(#ema)" stroke="rgba(30,10,10,0.8)" stroke-width="0.7"/>
<rect x="748.2" y="313.0" width="7.7" height="6.0" fill="url(#emc)" stroke="rgba(30,10,10,0.8)" stroke-width="0.7"/>
<text x="749.4" y="413.8" fill="#333" text-anchor="middle" style='font-family:"Liberation Sans", sans-serif;font-size:11.5px;' >80</text>
<rect x="759.3" y="302.5" width="7.7" height="99.7" fill="url(#eco)" stroke="rgba(30,10,10,0.8)" stroke-width="0.7"/>
<rect x="759.3" y="280.8" width="7.7" height="21.7" fill="url(#eca)" stroke="rgba(30,10,10,0.8)" stroke-width="0.7"/>
<rect x="759.3" y="269.3" width="7.7" height="11.5" fill="url(#ecc)" stroke="rgba(30,10,10,0.8)" stroke-width="0.7"/>
<rect x="767.3" y="329.9" width="7.7" height="72.3" fill="url(#emo)" stroke="rgba(30,10,10,0.8)" stroke-width="0.7"/>
<rect x="767.3" y="308.8" width="7.7" height="21.1" fill="url(#ema)" stroke="rgba(30,10,10,0.8)" stroke-width="0.7"/>
<rect x="767.3" y="302.5" width="7.7" height="6.3" fill="url(#emc)" stroke="rgba(30,10,10,0.8)" stroke-width="0.7"/>
<text x="768.5" y="413.8" fill="#333" text-anchor="middle" style='font-family:"Liberation Sans", sans-serif;font-size:11.5px;' >90</text>
<rect x="778.3" y="291.0" width="7.7" height="111.2" fill="url(#eco)" stroke="rgba(30,10,10,0.8)" stroke-width="0.7"/>
<rect x="778.3" y="269.3" width="7.7" height="21.7" fill="url(#eca)" stroke="rgba(30,10,10,0.8)" stroke-width="0.7"/>
<rect x="778.3" y="256.3" width="7.7" height="13.0" fill="url(#ecc)" stroke="rgba(30,10,10,0.8)" stroke-width="0.7"/>
<rect x="786.3" y="323.6" width="7.7" height="78.6" fill="url(#emo)" stroke="rgba(30,10,10,0.8)" stroke-width="0.7"/>
<rect x="786.3" y="302.5" width="7.7" height="21.1" fill="url(#ema)" stroke="rgba(30,10,10,0.8)" stroke-width="0.7"/>
<rect x="786.3" y="293.8" width="7.7" height="8.7" fill="url(#emc)" stroke="rgba(30,10,10,0.8)" stroke-width="0.7"/>
<text x="787.5" y="413.8" fill="#333" text-anchor="middle" style='font-family:"Liberation Sans", sans-serif;font-size:11.5px;' >100</text>
<rect x="601" y="237.4" width="200.5" height="164.8" fill="none" stroke="#222" stroke-width="1.2"/>
<line x1="597.5" y1="260.5" x2="601" y2="260.5" stroke="#222" stroke-width="1"/>
<text x="594.7" y="264.8" fill="#333" text-anchor="end" style='font-family:"Liberation Sans", sans-serif;font-size:12px;' >0.6</text>
<line x1="597.5" y1="307.7" x2="601" y2="307.7" stroke="#222" stroke-width="1"/>
<text x="594.7" y="312.0" fill="#333" text-anchor="end" style='font-family:"Liberation Sans", sans-serif;font-size:12px;' >0.4</text>
<line x1="597.5" y1="355" x2="601" y2="355" stroke="#222" stroke-width="1"/>
<text x="594.7" y="359.3" fill="#333" text-anchor="end" style='font-family:"Liberation Sans", sans-serif;font-size:12px;' >0.2</text>
<line x1="597.5" y1="402.2" x2="601" y2="402.2" stroke="#222" stroke-width="1"/>
<text x="594.7" y="406.5" fill="#333" text-anchor="end" style='font-family:"Liberation Sans", sans-serif;font-size:12px;' >0.0</text>
<line x1="599" y1="284.1" x2="601" y2="284.1" stroke="#222" stroke-width="0.9"/>
<line x1="599" y1="331.2" x2="601" y2="331.2" stroke="#222" stroke-width="0.9"/>
<line x1="599" y1="378.4" x2="601" y2="378.4" stroke="#222" stroke-width="0.9"/>
<text x="574.3" y="241.3" fill="#111" style='font-family:"Liberation Sans", sans-serif;font-size:19px;' >e</text>
<text transform="translate(567.7,319.7) rotate(-90)" text-anchor="middle" textLength="74" lengthAdjust="spacingAndGlyphs" fill="#333" style='font-family:"Liberation Sans", sans-serif;font-size:15.3px;'>Voltage (V)</text>
<text x="616.6" y="433" fill="#333" textLength="168.89999999999998" lengthAdjust="spacingAndGlyphs" style='font-family:"Liberation Sans", sans-serif;font-size:14.5px;'>Current density (mA cm<tspan dy="-5.5" style="font-size:10.5px">-2</tspan><tspan dy="5.5">)</tspan></text>
<rect x="604.7" y="240.6" width="24.1" height="11.2" fill="url(#emc)" stroke="rgba(80,80,80,0.4)" stroke-width="0.6"/>
<rect x="604.7" y="253.8" width="24.1" height="11.6" fill="url(#ema)" stroke="rgba(80,80,80,0.4)" stroke-width="0.6"/>
<rect x="604.7" y="266.7" width="24.1" height="11.9" fill="url(#emo)" stroke="rgba(80,80,80,0.4)" stroke-width="0.6"/>
<rect x="725.2" y="238.9" width="25.1" height="12.4" fill="url(#ecc)" stroke="rgba(70,35,10,0.75)" stroke-width="0.7"/>
<rect x="725.2" y="253" width="25.1" height="12.4" fill="url(#eca)" stroke="rgba(70,35,10,0.75)" stroke-width="0.7"/>
<rect x="725.2" y="267.2" width="25.1" height="12.4" fill="url(#eco)" stroke="rgba(70,35,10,0.75)" stroke-width="0.7"/>
<text x="630.8" y="250.2" fill="#333" textLength="93" lengthAdjust="spacingAndGlyphs" style='font-family:"Liberation Sans", sans-serif;font-size:12px;' >Concentration loss</text>
<text x="639" y="264.9" fill="#333" textLength="73" lengthAdjust="spacingAndGlyphs" style='font-family:"Liberation Sans", sans-serif;font-size:12px;' >Activation loss</text>
<text x="649.4" y="279.5" fill="#333" textLength="55" lengthAdjust="spacingAndGlyphs" style='font-family:"Liberation Sans", sans-serif;font-size:12px;' >Ohmic loss</text>
<text x="603.5" y="292.7" fill="#333" textLength="59" lengthAdjust="spacingAndGlyphs" style='font-family:"Liberation Sans", sans-serif;font-size:12px;' >MXene@CF</text>
<text x="754" y="261.8" fill="#333" textLength="12.5" lengthAdjust="spacingAndGlyphs" style='font-family:"Liberation Sans", sans-serif;font-size:12px;' >CF</text>
</g>
</svg>
</body></html>
